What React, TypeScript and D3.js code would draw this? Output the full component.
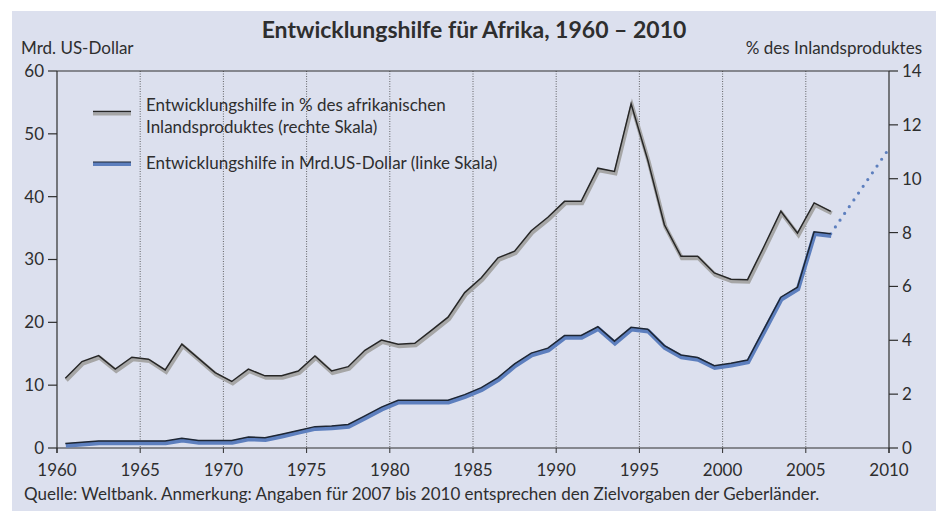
import React from 'react';
import * as d3 from 'd3';

// Daten – Werte werden jeweils zur Jahresmitte gezeichnet
const years = [
  1960, 1961, 1962, 1963, 1964, 1965, 1966, 1967, 1968, 1969,
  1970, 1971, 1972, 1973, 1974, 1975, 1976, 1977, 1978, 1979,
  1980, 1981, 1982, 1983, 1984, 1985, 1986, 1987, 1988, 1989,
  1990, 1991, 1992, 1993, 1994, 1995, 1996, 1997, 1998, 1999,
  2000, 2001, 2002, 2003, 2004, 2005, 2006,
];
// Entwicklungshilfe in % des afrikanischen Inlandsproduktes (rechte Skala)
const aidPercent = [
  2.59, 3.21, 3.43, 2.93, 3.37, 3.3, 2.9, 3.86, 3.33, 2.8,
  2.47, 2.93, 2.68, 2.68, 2.86, 3.42, 2.86, 3.02, 3.63, 4.01,
  3.85, 3.89, 4.37, 4.86, 5.77, 6.32, 7.06, 7.31, 8.07, 8.57,
  9.16, 9.16, 10.39, 10.27, 12.78, 10.7, 8.29, 7.12, 7.12, 6.5,
  6.27, 6.25, 7.5, 8.79, 7.98, 9.1, 8.79,
];
// Entwicklungshilfe in Mrd. US-Dollar (linke Skala)
const aidBillions = [
  0.7, 0.9, 1.1, 1.1, 1.1, 1.1, 1.1, 1.55, 1.2, 1.2,
  1.2, 1.75, 1.65, 2.2, 2.8, 3.4, 3.5, 3.75, 5.1, 6.5,
  7.6, 7.6, 7.6, 7.6, 8.5, 9.6, 11.2, 13.4, 15.1, 15.9,
  17.9, 17.9, 19.3, 17.0, 19.2, 18.9, 16.3, 14.8, 14.4, 13.1,
  13.5, 14.0, 19.0, 24.0, 25.6, 34.4, 34.1,
];
// Zielvorgaben der Geberländer
const targetYears = [2006, 2010];
const targetBillions = [34.1, 49.6];

const xTicks = [1960, 1965, 1970, 1975, 1980, 1985, 1990, 1995, 2000, 2005, 2010];
const leftTicks = [0, 10, 20, 30, 40, 50, 60];
const rightTicks = [0, 2, 4, 6, 8, 10, 12, 14];

const W = 936;
const H = 511;
const left = 57, right = 889, top = 71, bottom = 448;

const bg = '#dce0ee';
const ink = '#2e2e2e';
const blue = '#5d7fbe';
const font = "Lato, 'Open Sans', sans-serif";
const fs = 17;

export default function App() {
  const x = d3.scaleLinear().domain([1960, 2010]).range([left, right]);
  const yL = d3.scaleLinear().domain([0, 60]).range([bottom, top]);
  const yR = d3.scaleLinear().domain([0, 14]).range([bottom, top]);

  const pctLine = d3.line<number>().x((_, i) => x(years[i] + 0.5)).y(d => yR(d))(aidPercent) || '';
  const usdLine = d3.line<number>().x((_, i) => x(years[i] + 0.5)).y(d => yL(d))(aidBillions) || '';
  const targetLine = d3.line<number>().x((_, i) => x(targetYears[i] + 0.5)).y(d => yL(d))(targetBillions) || '';

  return (
    <svg width={W} height={H} style={{ position: 'absolute', left: 0, top: 0, display: 'block' }}
      fontFamily={font}>
      <defs>
        <clipPath id="plot">
          <rect x={left} y={top - 10} width={right - left} height={bottom - top + 10} />
        </clipPath>
      </defs>
      <rect x={0} y={0} width={W} height={H} fill="#fff" />
      <rect x={12} y={11} width={W - 12} height={H - 11} fill={bg} />

      <text x={474} y={38} textAnchor="middle" fontSize={23} fontWeight="bold" fill={ink}>
        Entwicklungshilfe für Afrika, 1960 – 2010
      </text>
      <text x={21} y={54} fontSize={fs} fill={ink}>Mrd. US-Dollar</text>
      <text x={922} y={54} textAnchor="end" fontSize={fs} fill={ink}>% des Inlandsproduktes</text>

      {/* vertikale Hilfslinien */}
      {xTicks.slice(1, -1).map(t => (
        <line key={'g' + t} x1={x(t)} x2={x(t)} y1={top} y2={bottom} stroke="#444" strokeWidth={0.8}
          strokeDasharray="1 1.5" />
      ))}

      {/* Achsen */}
      <line x1={left} x2={right} y1={top} y2={top} stroke={ink} strokeWidth={1.2} />
      <line x1={left} x2={right} y1={bottom} y2={bottom} stroke={ink} strokeWidth={1.2} />
      <line x1={left} x2={left} y1={top} y2={bottom + 5} stroke={ink} strokeWidth={1.2} />
      <line x1={right} x2={right} y1={top} y2={bottom + 5} stroke={ink} strokeWidth={1.2} />
      {xTicks.map(t => (
        <line key={'t' + t} x1={x(t)} x2={x(t)} y1={bottom} y2={bottom + 5} stroke={ink} strokeWidth={1} />
      ))}
      {xTicks.map(t => (
        <text key={'x' + t} x={x(t)} y={476} textAnchor="middle" fontSize={fs} fill={ink}>{t}</text>
      ))}
      {leftTicks.map(t => (
        <g key={'l' + t}>
          <line x1={left - 9} x2={left} y1={yL(t)} y2={yL(t)} stroke={ink} strokeWidth={1.2} />
          <text x={44} y={yL(t)} dy="0.35em" textAnchor="end" fontSize={fs} fill={ink}>{t}</text>
        </g>
      ))}
      {rightTicks.map(t => (
        <g key={'r' + t}>
          <line x1={right} x2={right + 9} y1={yR(t)} y2={yR(t)} stroke={ink} strokeWidth={1.2} />
          <text x={902} y={yR(t)} dy="0.35em" fontSize={fs} fill={ink}>{t}</text>
        </g>
      ))}

      {/* Linien */}
      <g clipPath="url(#plot)">
        <path d={pctLine} fill="none" stroke="#a6a6a6" strokeWidth={4} transform="translate(1,2)" />
        <path d={pctLine} fill="none" stroke="#262626" strokeWidth={1.5} />
        <path d={targetLine} fill="none" stroke={blue} strokeWidth={3.2} strokeLinecap="round" strokeDasharray="0 8.2" />
        <path d={usdLine} fill="none" stroke={blue} strokeWidth={4.5} transform="translate(0.5,2)" />
        <path d={usdLine} fill="none" stroke="#1e2633" strokeWidth={1.5} />
      </g>

      {/* Legende */}
      <line x1={93} x2={131} y1={114} y2={114} stroke="#a6a6a6" strokeWidth={3} />
      <line x1={93} x2={131} y1={111.5} y2={111.5} stroke="#262626" strokeWidth={1.5} />
      <text x={146} y={111} fontSize={fs} fill={ink}>Entwicklungshilfe in % des afrikanischen</text>
      <text x={146} y={133} fontSize={fs} fill={ink}>Inlandsproduktes (rechte Skala)</text>
      <line x1={93} x2={131} y1={164} y2={164} stroke={blue} strokeWidth={4} />
      <line x1={93} x2={131} y1={162} y2={162} stroke="#1e2633" strokeWidth={1} />
      <text x={146} y={169} fontSize={fs} fill={ink}>Entwicklungshilfe in Mrd.US-Dollar (linke Skala)</text>

      <text x={24} y={500} fontSize={fs} fill={ink}>
        Quelle: Weltbank. Anmerkung: Angaben für 2007 bis 2010 entsprechen den Zielvorgaben der Geberländer.
      </text>
    </svg>
  );
}
